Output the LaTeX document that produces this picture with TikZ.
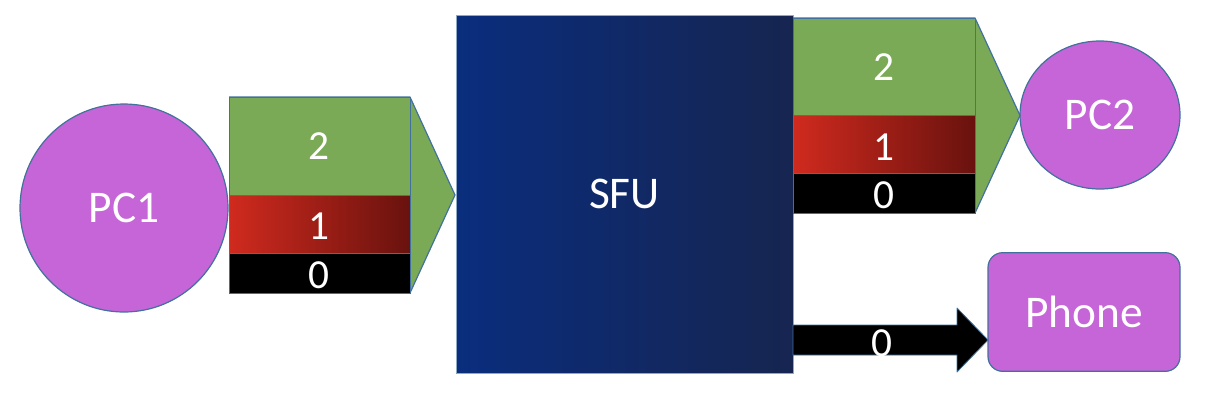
\documentclass[tikz,border=0pt]{standalone}
\usepackage{fontspec}
\setmainfont{Carlito}
\usepackage{tikz}
\usetikzlibrary{shapes.geometric}

\begin{document}
\begin{tikzpicture}[x=0.75pt, y=-0.75pt, line join=round]

    % Colours picked from the slide
    \definecolor{hostpurple}{RGB}{197, 101, 215}
    \definecolor{edgeblue}{RGB}{65, 113, 156}
    \definecolor{layergreen}{RGB}{123, 170, 86}
    \definecolor{layerred}{RGB}{208, 42, 30}
    \definecolor{layerdark}{RGB}{105, 18, 14}
    \definecolor{sfublue}{RGB}{10, 45, 125}
    \definecolor{sfunavy}{RGB}{22, 37, 80}

    \tikzset{
        host/.style={fill=hostpurple, draw=edgeblue, line width=0.9pt,
            text=white, font=\fontsize{34}{38}\selectfont},
        layertxt/.style={text=white, font=\fontsize{31}{34}\selectfont},
        band/.style={draw=edgeblue, line width=0.6pt},
        redlayer/.style={left color=layerred, middle color=layerred!80!layerdark, right color=layerdark}
    }

    \useasboundingbox (0,0) rectangle (1220,408);

    % =======================================================
    % HOSTS AND SFU
    % =======================================================
    \node[host, circle, minimum size=156pt, inner sep=0pt] (pc1) at (124,208) {PC1};
    \node[host, ellipse, minimum width=120pt, minimum height=111pt, inner sep=0pt] (pc2) at (1100,115) {PC2};
    \node[host, rectangle, rounded corners=11pt, minimum width=144pt, minimum height=89pt, inner sep=0pt] (phone) at (1084,312) {Phone};

    \node[rectangle, minimum width=252.75pt, minimum height=268.5pt, inner sep=0pt,
        left color=sfublue, right color=sfunavy, draw=edgeblue!60, line width=0.6pt,
        text=white, font=\fontsize{34}{38}\selectfont] (sfu) at (624.5,194) {SFU};

    % =======================================================
    % PC1 -> SFU (three layers)
    % =======================================================
    % 1. Green block arrow
    \fill[layergreen] (229,97) -- (410,97) -- (455,195) -- (410,293) -- (229,293) -- cycle;
    \draw[edgeblue, line width=0.9pt] (229,97) -- (410,97) -- (455,195) -- (410,293);
    \draw[edgeblue, line width=0.6pt] (410,97) -- (410,293);

    % 2. Red and black layers
    \fill[band, redlayer] (229,195) rectangle (410,253);
    \fill[band, black] (229,253) rectangle (410,293);
    \draw[band] (229,97) rectangle (410,195);
    \draw[band] (229,195) rectangle (410,253);
    \draw[band] (229,253) rectangle (410,293);

    % 3. Layer numbers
    \node[layertxt] (inhigh) at (319,146) {2};
    \node[layertxt] (inmid) at (319,226) {1};
    \node[layertxt] (inlow) at (319,275) {0};

    % =======================================================
    % SFU -> PC2 (three layers)
    % =======================================================
    \fill[layergreen] (793,18) -- (975,18) -- (1020,115.5) -- (975,213) -- (793,213) -- cycle;
    \draw[edgeblue, line width=0.9pt] (793,18) -- (975,18) -- (1020,115.5) -- (975,213);
    \draw[edgeblue, line width=0.6pt] (975,18) -- (975,213);

    \fill[band, redlayer] (793,115) rectangle (975,173);
    \fill[band, black] (793,173) rectangle (975,213);
    \draw[band] (793,18) rectangle (975,115);
    \draw[band] (793,115) rectangle (975,173);
    \draw[band] (793,173) rectangle (975,213);

    \node[layertxt] (outhigh) at (884,67) {2};
    \node[layertxt] (outmid) at (884,147) {1};
    \node[layertxt] (outlow) at (884,195) {0};

    % =======================================================
    % SFU -> Phone (base layer only)
    % =======================================================
    \fill[black, draw=edgeblue, line width=0.6pt] (793,325) -- (957,325) -- (957,308) -- (988,340)
        -- (957,372) -- (957,355) -- (793,355) -- cycle;
    \node[layertxt] (phonelow) at (882,343) {0};

\end{tikzpicture}
\end{document}
